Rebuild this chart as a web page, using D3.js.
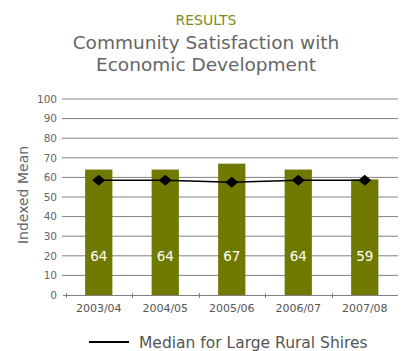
<!DOCTYPE html>
<html>
<head>
<meta charset="utf-8">
<script src="https://cdn.jsdelivr.net/npm/d3@7"></script>
<style>
  body { margin: 0; background: #fff; }
  text { font-family: "DejaVu Sans", Verdana, sans-serif; }
</style>
</head>
<body>
<svg id="chart" width="404" height="351"></svg>
<script>
// chart data
let years = ["2003/04", "2004/05", "2005/06", "2006/07", "2007/08"];
let satisfaction = [64, 64, 67, 64, 59];
let median = [58.5, 58.5, 57.5, 58.5, 58.5];
let yTicks = [0, 10, 20, 30, 40, 50, 60, 70, 80, 90, 100];

let svg = d3.select("#chart");

// titles
svg.append("text").attr("x", 206).attr("y", 25).attr("text-anchor", "middle")
  .style("font-size", "14px").attr("fill", "#7d8a1e").text("RESULTS");
svg.append("text").attr("x", 206).attr("y", 49).attr("text-anchor", "middle")
  .style("font-size", "18.5px").attr("fill", "#666").text("Community Satisfaction with");
svg.append("text").attr("x", 206).attr("y", 71).attr("text-anchor", "middle")
  .style("font-size", "18.5px").attr("fill", "#666").text("Economic Development");

let xScale = d3.scaleBand().domain(years).range([65.5, 398]).padding(0);
let yScale = d3.scaleLinear().domain([0, 100]).range([295, 99]);

// gridlines
svg.append("g").selectAll("line").data(yTicks.slice(1)).enter()
  .append("line")
  .attr("x1", 62).attr("x2", 398)
  .attr("y1", d => yScale(d)).attr("y2", d => yScale(d))
  .attr("stroke", "#808080").attr("stroke-width", 1);

// y axis labels
let yAxis = d3.axisLeft(yScale).tickValues(yTicks).tickSize(0).tickPadding(5);
let yg = svg.append("g").attr("transform", "translate(62,0)").call(yAxis);
yg.select(".domain").remove();
yg.selectAll("text").style("font-size", "10.5px").attr("fill", "#666").style("font-family", "DejaVu Sans, sans-serif");

svg.append("text").attr("transform", "translate(28,195) rotate(-90)")
  .attr("text-anchor", "middle").style("font-size", "14px").attr("fill", "#666")
  .text("Indexed Mean");

// bars
let barW = xScale.bandwidth() * 0.41;
svg.append("g").selectAll("rect").data(satisfaction).enter()
  .append("rect")
  .attr("x", (d, i) => xScale(years[i]) + xScale.bandwidth() / 2 - barW / 2)
  .attr("width", barW)
  .attr("y", d => yScale(d))
  .attr("height", d => yScale(0) - yScale(d))
  .attr("fill", "#707a00");

// bar value labels
svg.append("g").selectAll("text").data(satisfaction).enter()
  .append("text")
  .attr("x", (d, i) => xScale(years[i]) + xScale.bandwidth() / 2)
  .attr("y", yScale(20) + 5)
  .attr("text-anchor", "middle")
  .style("font-size", "13.5px").attr("fill", "#fff")
  .text(d => d);

// x axis
let xAxis = d3.axisBottom(xScale).tickSize(0).tickPadding(9);
let xg = svg.append("g").attr("transform", "translate(0,295)").call(xAxis);
xg.select(".domain").remove();
xg.selectAll("text").style("font-size", "11px").attr("fill", "#555").style("font-family", "DejaVu Sans, sans-serif");
svg.append("line").attr("x1", 63).attr("x2", 398).attr("y1", 295.5).attr("y2", 295.5)
  .attr("stroke", "#808080");
let bounds = years.map(y => xScale(y));
svg.append("g").selectAll("line").data(bounds).enter()
  .append("line")
  .attr("x1", d => Math.round(d) + 0.5).attr("x2", d => Math.round(d) + 0.5)
  .attr("y1", 293).attr("y2", 298)
  .attr("stroke", "#808080");

// median line
let line = d3.line()
  .x((d, i) => xScale(years[i]) + xScale.bandwidth() / 2)
  .y(d => yScale(d));
svg.append("path").datum(median).attr("d", line)
  .attr("fill", "none").attr("stroke", "#000").attr("stroke-width", 1.5);
svg.append("g").selectAll("path").data(median).enter()
  .append("path")
  .attr("transform", (d, i) => `translate(${xScale(years[i]) + xScale.bandwidth() / 2},${yScale(d)})`)
  .attr("d", "M0,-5.5L6.5,0L0,5.5L-6.5,0Z")
  .attr("fill", "#000");

// legend
svg.append("line").attr("x1", 89).attr("x2", 129).attr("y1", 342).attr("y2", 342)
  .attr("stroke", "#000").attr("stroke-width", 2);
svg.append("text").attr("x", 139).attr("y", 348)
  .style("font-size", "15.5px").attr("fill", "#555")
  .text("Median for Large Rural Shires");
</script>
</body>
</html>
